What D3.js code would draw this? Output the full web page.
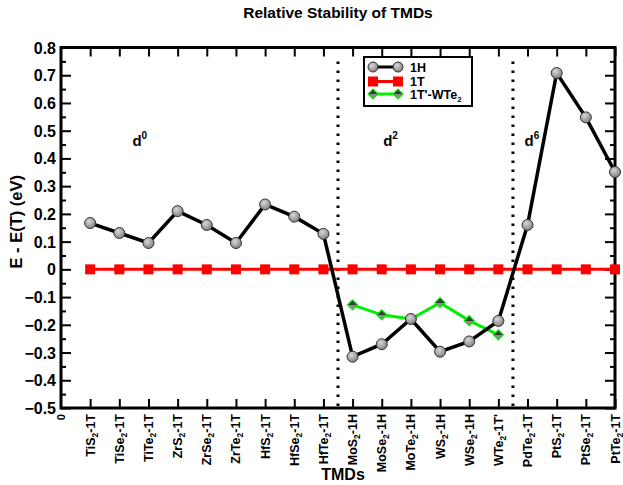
<!DOCTYPE html>
<html>
<head>
<meta charset="utf-8">
<script src="https://cdn.jsdelivr.net/npm/d3@7"></script>
<style>
  body { margin: 0; background: #fff; }
  svg { font-family: "Liberation Sans", Arial, sans-serif; font-weight: bold; }
</style>
</head>
<body>
<div id="chart"></div>
<script>
// compound, sub-script, phase
var materials = [
	["TiS", "2", "-1T"], ["TiSe", "2", "-1T"], ["TiTe", "2", "-1T"],
	["ZrS", "2", "-1T"], ["ZrSe", "2", "-1T"], ["ZrTe", "2", "-1T"],
	["HfS", "2", "-1T"], ["HfSe", "2", "-1T"], ["HfTe", "2", "-1T"],
	["MoS", "2", "-1H"], ["MoSe", "2", "-1H"], ["MoTe", "2", "-1H"],
	["WS", "2", "-1H"], ["WSe", "2", "-1H"], ["WTe", "2", "-1T'"],
	["PdTe", "2", "-1T"], ["PtS", "2", "-1T"], ["PtSe", "2", "-1T"], ["PtTe", "2", "-1T"]
];

var h1Values = [0.167, 0.131, 0.095, 0.21, 0.16, 0.095, 0.234, 0.19, 0.128,
	-0.315, -0.27, -0.179, -0.297, -0.26, -0.186,
	0.16, 0.708, 0.548, 0.351];
var t1Values = [0, 0, 0, 0, 0, 0, 0, 0, 0, 0, 0, 0, 0, 0, 0, 0, 0, 0, 0];
// 1T'-WTe2 only for group d2 (MoS2 .. WTe2)
var wte2Start = 10;
var wte2Values = [-0.128, -0.164, -0.179, -0.12, -0.185, -0.236];

var yTicks = [-0.5, -0.4, -0.3, -0.2, -0.1, 0, 0.1, 0.2, 0.3, 0.4, 0.5, 0.6, 0.7, 0.8];
var groupBreaks = [9.5, 15.5];
var groupLabels = [{pos: 2.45, txt: "d", sup: "0"}, {pos: 11.05, txt: "d", sup: "2"}, {pos: 15.9, txt: "d", sup: "6"}];

var width = 623,
	height = 485;
var margin = {left: 61, right: 8, top: 47.5, bottom: 77};

var svg = d3.select("#chart")
	.append("svg")
		.attr("width", width)
		.attr("height", height);

var x = d3.scaleLinear()
	.domain([0, materials.length])
	.range([margin.left, width - margin.right]);

var y = d3.scaleLinear()
	.domain([-0.5, 0.8])
	.range([height - margin.bottom, margin.top]);

var plotW = width - margin.right - margin.left,
	plotH = height - margin.bottom - margin.top;

svg.append("text")
	.attr("x", (margin.left + width - margin.right) / 2)
	.attr("y", 18)
	.attr("text-anchor", "middle")
	.attr("font-size", 15.5)
	.text("Relative Stability of TMDs");

// axes: ticks all pointing inward
var idx = d3.range(1, materials.length + 1);
var minorY = d3.range(-0.45, 0.8, 0.1);

svg.append("g")
	.attr("transform", "translate(" + margin.left + ",0)")
	.call(d3.axisRight(y).tickValues(yTicks).tickSize(10).tickFormat(""));
svg.append("g")
	.attr("transform", "translate(" + margin.left + ",0)")
	.call(d3.axisRight(y).tickValues(minorY).tickSize(5).tickFormat(""));
svg.append("g")
	.attr("transform", "translate(" + (width - margin.right) + ",0)")
	.call(d3.axisLeft(y).tickValues(yTicks).tickSize(10).tickFormat(""));
svg.append("g")
	.attr("transform", "translate(" + (width - margin.right) + ",0)")
	.call(d3.axisLeft(y).tickValues(minorY).tickSize(5).tickFormat(""));
svg.append("g")
	.attr("transform", "translate(0," + y(-0.5) + ")")
	.call(d3.axisTop(x).tickValues(idx).tickSize(9).tickFormat(""));
svg.append("g")
	.attr("transform", "translate(0," + y(0.8) + ")")
	.call(d3.axisBottom(x).tickValues(idx).tickSize(9).tickFormat(""));

svg.selectAll(".domain").remove();
svg.selectAll(".tick line").attr("stroke", "#000").attr("stroke-width", 2);

svg.append("rect")
	.attr("x", margin.left)
	.attr("y", margin.top)
	.attr("width", plotW)
	.attr("height", plotH)
	.attr("fill", "none")
	.attr("stroke", "#000")
	.attr("stroke-width", 3);

// y tick labels
svg.append("g").selectAll("text")
	.data(yTicks)
	.enter().append("text")
		.attr("x", margin.left - 5)
		.attr("y", function(d) { return y(d) + 6; })
		.attr("text-anchor", "end")
		.attr("font-size", 16)
		.text(function(d) { return d === 0 ? "0" : d3.format(".1f")(d); });

// x tick labels (rotated)
var xl = svg.append("g").selectAll("text")
	.data(materials)
	.enter().append("text")
		.attr("transform", function(d, i) {
			return "translate(" + (x(i + 1) + 4.5) + "," + (y(-0.5) + 6) + ") rotate(-90)";
		})
		.attr("text-anchor", "end")
		.attr("font-size", 12.5);
xl.append("tspan").text(function(d) { return d[0]; });
xl.append("tspan").attr("font-size", 8.5).attr("dy", 3).text(function(d) { return d[1]; });
xl.append("tspan").attr("dy", -3).text(function(d) { return d[2]; });

svg.append("text")
	.attr("transform", "translate(" + (x(0) + 4) + "," + (y(-0.5) + 6) + ") rotate(-90)")
	.attr("text-anchor", "end")
	.attr("font-size", 11)
	.text("0");

svg.append("text")
	.attr("x", 343)
	.attr("y", 480)
	.attr("text-anchor", "middle")
	.attr("font-size", 16)
	.text("TMDs");

svg.append("text")
	.attr("transform", "translate(22," + (margin.top + plotH / 2 - 6) + ") rotate(-90)")
	.attr("text-anchor", "middle")
	.attr("font-size", 16.5)
	.text("E - E(T) (eV)");

// group separators
svg.append("g").selectAll("line")
	.data(groupBreaks)
	.enter().append("line")
		.attr("x1", function(d) { return x(d); })
		.attr("x2", function(d) { return x(d); })
		.attr("y1", y(0.8) + 14)
		.attr("y2", y(-0.5))
		.attr("stroke", "#000")
		.attr("stroke-width", 3)
		.attr("stroke-dasharray", "2.5,6.5");

var gl = svg.append("g").selectAll("text")
	.data(groupLabels)
	.enter().append("text")
		.attr("x", function(d) { return x(d.pos); })
		.attr("y", y(0.445))
		.attr("font-size", 15)
		.text(function(d) { return d.txt; });
gl.append("tspan").attr("font-size", 10).attr("dy", -7).text(function(d) { return d.sup; });

var defs = svg.append("defs");
var grad = defs.append("radialGradient").attr("id", "ball").attr("cx", "40%").attr("cy", "35%").attr("r", "70%");
grad.append("stop").attr("offset", "0%").attr("stop-color", "#d8d8d8");
grad.append("stop").attr("offset", "100%").attr("stop-color", "#7a7a7a");
var dgrad = defs.append("linearGradient").attr("id", "dia").attr("x1", "0%").attr("y1", "0%").attr("x2", "100%").attr("y2", "100%");
dgrad.append("stop").attr("offset", "50%").attr("stop-color", "#3a3a3a");
dgrad.append("stop").attr("offset", "50%").attr("stop-color", "#8a8a8a");

var line = d3.line()
	.x(function(d) { return x(d.i); })
	.y(function(d) { return y(d.v); });

var t1Data = t1Values.map(function(v, i) { return {i: i + 1, v: v}; });
var h1Data = h1Values.map(function(v, i) { return {i: i + 1, v: v}; });
var wData = wte2Values.map(function(v, i) { return {i: i + wte2Start, v: v}; });

// 1T
svg.append("path")
	.datum(t1Data)
	.attr("d", line)
	.attr("fill", "none")
	.attr("stroke", "#ff0000")
	.attr("stroke-width", 3);
svg.append("g").selectAll("rect")
	.data(t1Data)
	.enter().append("rect")
		.attr("x", function(d) { return x(d.i) - 5; })
		.attr("y", function(d) { return y(d.v) - 5; })
		.attr("width", 10)
		.attr("height", 10)
		.attr("fill", "#ff0000");

// 1T'-WTe2 (square turned 45deg)
svg.append("path")
	.datum(wData)
	.attr("d", line)
	.attr("fill", "none")
	.attr("stroke", "#00ee00")
	.attr("stroke-width", 3);
var diamond = d3.symbol().type(d3.symbolSquare).size(50);
svg.append("g").selectAll("path")
	.data(wData)
	.enter().append("path")
		.attr("transform", function(d) { return "translate(" + x(d.i) + "," + y(d.v) + ") rotate(45)"; })
		.attr("d", diamond)
		.attr("fill", "url(#dia)")
		.attr("stroke", "#00ee00")
		.attr("stroke-width", 1.2);

// 1H
svg.append("path")
	.datum(h1Data)
	.attr("d", line)
	.attr("fill", "none")
	.attr("stroke", "#000")
	.attr("stroke-width", 3.5);
svg.append("g").selectAll("circle")
	.data(h1Data)
	.enter().append("circle")
		.attr("cx", function(d) { return x(d.i); })
		.attr("cy", function(d) { return y(d.v); })
		.attr("r", 5.5)
		.attr("fill", "url(#ball)")
		.attr("stroke", "#333")
		.attr("stroke-width", 1);

// legend
var legend = svg.append("g").attr("transform", "translate(364,57)");
legend.append("rect")
	.attr("width", 108)
	.attr("height", 49)
	.attr("fill", "#fff")
	.attr("stroke", "#000")
	.attr("stroke-width", 2);

var items = [
	{name: "1H", color: "#000"},
	{name: "1T", color: "#ff0000"},
	{name: "1T'-WTe", sub: "2", color: "#00ee00"}
];
var rowY = [10, 24.5, 37];
items.forEach(function(it, k) {
	var row = legend.append("g").attr("transform", "translate(0," + rowY[k] + ")");
	row.append("line")
		.attr("x1", 9).attr("x2", 34)
		.attr("stroke", it.color)
		.attr("stroke-width", 3);
	[9, 34].forEach(function(px) {
		if (k === 0) {
			row.append("circle").attr("cx", px).attr("r", 5).attr("fill", "url(#ball)").attr("stroke", "#333");
		} else if (k === 1) {
			row.append("rect").attr("x", px - 5).attr("y", -5).attr("width", 10).attr("height", 10).attr("fill", "#ff0000");
		} else {
			row.append("path").attr("transform", "translate(" + px + ",0) rotate(45)").attr("d", diamond)
				.attr("fill", "url(#dia)").attr("stroke", "#00ee00").attr("stroke-width", 1.2);
		}
	});
	var t = row.append("text")
		.attr("x", 46)
		.attr("y", 4.5)
		.attr("font-size", 12.5)
		.text(it.name);
	if (it.sub) t.append("tspan").attr("font-size", 8).attr("dy", 3).text(it.sub);
});
</script>
</body>
</html>
